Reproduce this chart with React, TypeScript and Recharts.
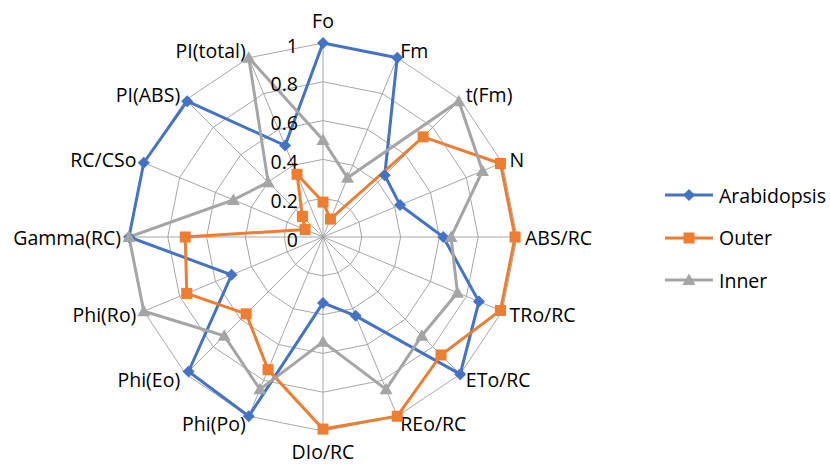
import React from 'react';
import {
  RadarChart,
  Radar,
  PolarGrid,
  PolarAngleAxis,
  PolarRadiusAxis,
  Legend,
} from 'recharts';

// Axis categories, clockwise from the top
const categories = [
  'Fo', 'Fm', 't(Fm)', 'N', 'ABS/RC', 'TRo/RC', 'ETo/RC', 'REo/RC',
  'DIo/RC', 'Phi(Po)', 'Phi(Eo)', 'Phi(Ro)', 'Gamma(RC)', 'RC/CSo', 'PI(ABS)', 'PI(total)',
];

// Normalised values per series
const arabidopsis = [1.0, 1.0, 0.45, 0.43, 0.62, 0.87, 1.0, 0.44, 0.34, 1.0, 0.98, 0.51, 1.0, 1.0, 0.99, 0.51];
const outer = [0.18, 0.1, 0.73, 0.99, 0.99, 0.99, 0.86, 1.0, 0.99, 0.74, 0.56, 0.76, 0.71, 0.1, 0.15, 0.35];
const inner = [0.5, 0.33, 0.99, 0.89, 0.66, 0.75, 0.72, 0.85, 0.54, 0.85, 0.72, 1.0, 1.0, 0.5, 0.4, 1.0];

const radiusTicks = [0, 0.2, 0.4, 0.6, 0.8, 1];

const seriesList = [
  { name: 'Arabidopsis', values: arabidopsis, color: '#4472C4', shape: 'diamond' },
  { name: 'Outer', values: outer, color: '#ED7D31', shape: 'square' },
  { name: 'Inner', values: inner, color: '#A5A5A5', shape: 'triangle' },
];

const data = categories.map((category, i) => {
  const row: Record<string, string | number> = { category };
  seriesList.forEach((s) => {
    row[s.name] = s.values[i];
  });
  return row;
});

const CX = 323;
const CY = 237;
const R = 194;
const FONT = '"Open Sans", Lato, sans-serif';
const FONT_SIZE = 19.5;
const TEXT_COLOR = '#000000';
const GRID_COLOR = '#A6A6A6';

function Marker({ shape, x, y, color }: { shape: string; x: number; y: number; color: string }) {
  if (shape === 'diamond') {
    return <polygon points={`${x},${y - 6} ${x + 6},${y} ${x},${y + 6} ${x - 6},${y}`} fill={color} />;
  }
  if (shape === 'square') {
    return <rect x={x - 5.5} y={y - 5.5} width={11} height={11} fill={color} />;
  }
  return <polygon points={`${x},${y - 6.5} ${x + 6.5},${y + 5} ${x - 6.5},${y + 5}`} fill={color} />;
}

function AngleTick(props: any) {
  const { x, y, payload } = props;
  const dx = x - CX;
  const dy = y - CY;
  const len = Math.hypot(dx, dy) || 1;
  const cos = dx / len;
  const sin = -dy / len;
  const px = CX + (R + 8) * cos;
  let py = CY - (R + 8) * sin;
  if (sin > 0.99) py -= 15;
  else if (sin < -0.99) py += 12;
  const anchor = cos > 0.05 ? 'start' : cos < -0.05 ? 'end' : 'middle';
  return (
    <text
      x={px}
      y={py}
      textAnchor={anchor}
      dominantBaseline="central"
      fontFamily={FONT}
      fontSize={FONT_SIZE}
      fill={TEXT_COLOR}
    >
      {payload.value}
    </text>
  );
}

function RadiusTick(props: any) {
  const { y, payload } = props;
  const v = Number(Number(payload.value).toFixed(1));
  return (
    <text
      x={CX - 25}
      y={y + 2}
      textAnchor="end"
      dominantBaseline="central"
      fontFamily={FONT}
      fontSize={FONT_SIZE}
      fill={TEXT_COLOR}
    >
      {String(v)}
    </text>
  );
}

function LegendContent() {
  return (
    <div style={{ fontFamily: FONT, fontSize: FONT_SIZE, color: TEXT_COLOR }}>
      {seriesList.map((s) => (
        <div key={s.name} style={{ display: 'flex', alignItems: 'center', height: 42.5 }}>
          <svg width={54} height={20} style={{ display: 'block' }}>
            <line x1={0} y1={10} x2={48} y2={10} stroke={s.color} strokeWidth={3} />
            <Marker shape={s.shape} x={24} y={10} color={s.color} />
          </svg>
          <span>{s.name}</span>
        </div>
      ))}
    </div>
  );
}

export default function App() {
  return (
    <div style={{ position: 'absolute', left: 0, top: 0, width: 830, height: 465, background: '#fff' }}>
      <RadarChart
        width={830}
        height={465}
        data={data}
        cx={CX}
        cy={CY}
        outerRadius={R}
        startAngle={90}
        endAngle={-270}
        margin={{ top: 0, right: 0, bottom: 0, left: 0 }}
      >
        <PolarGrid gridType="polygon" stroke={GRID_COLOR} strokeWidth={1} />
        <PolarAngleAxis dataKey="category" tick={<AngleTick />} tickLine={false} axisLine={false} />
        <PolarRadiusAxis
          angle={90}
          domain={[0, 1]}
          ticks={radiusTicks as any}
          tickCount={6}
          tick={<RadiusTick />}
          axisLine={false}
          tickLine={false}
        />
        {seriesList.map((s) => (
          <Radar
            key={s.name}
            name={s.name}
            dataKey={s.name}
            stroke={s.color}
            strokeWidth={3}
            fill="none"
            fillOpacity={0}
            isAnimationActive={false}
            dot={(p: any) => (
              <Marker key={`${s.name}-${p.index}`} shape={s.shape} x={p.cx} y={p.cy} color={s.color} />
            )}
          />
        ))}
        <Legend
          layout="vertical"
          verticalAlign="top"
          align="left"
          wrapperStyle={{ left: 665, top: 174, width: 165 }}
          content={() => <LegendContent />}
        />
      </RadarChart>
    </div>
  );
}
